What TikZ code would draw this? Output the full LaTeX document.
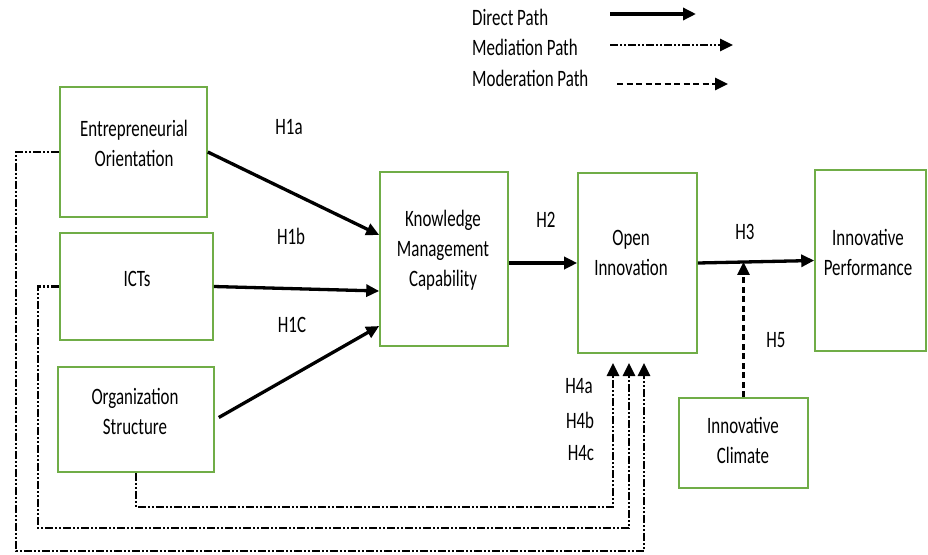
\documentclass[tikz,border=0pt]{standalone}
\usepackage{fontspec}
\setmainfont[FakeStretch=0.72]{Carlito}
\usetikzlibrary{arrows.meta,calc}
\definecolor{boxgreen}{RGB}{112,173,71}
\begin{document}
\begin{tikzpicture}[x=1pt,y=-1pt,
  box/.style={draw=boxgreen,line width=1.6pt,rectangle,inner sep=0pt},
  txt/.style={align=center,font=\fontsize{23.5}{30}\selectfont,inner sep=0pt},
  lbl/.style={font=\fontsize{23.5}{30}\selectfont,inner sep=0pt},
  tip/.style={-{Triangle[length=13pt,width=12pt]}},
  direct/.style={tip,line width=3.3pt},
  mediation/.style={tip,line width=2.6pt,dash pattern=on 8pt off 2pt on 2pt off 2pt on 2pt off 2pt},
  moderation/.style={tip,line width=2.6pt,dash pattern=on 6pt off 3.5pt}]
\useasboundingbox (0,0) rectangle (928,554);
% boxes
\node[box,minimum width=147pt,minimum height=130pt] (eo) at (133.5,152) {};
\node[box,minimum width=153pt,minimum height=107pt] (icts) at (136.5,286.5) {};
\node[box,minimum width=156pt,minimum height=105pt] (os) at (136,419.5) {};
\node[box,minimum width=128pt,minimum height=174pt] (kmc) at (444,259) {};
\node[box,minimum width=119pt,minimum height=180pt] (oi) at (637.5,263) {};
\node[box,minimum width=111pt,minimum height=181pt] (ip) at (870.5,260.5) {};
\node[box,minimum width=129pt,minimum height=90pt] (ic) at (743.5,443) {};
% box texts
\node[txt] (eot) at (134,143) {Entrepreneurial\\Orientation};
\node[txt] (ictst) at (137,279) {ICTs};
\node[txt] (ost) at (135,411) {Organization\\Structure};
\node[txt] (kmct) at (443,250) {Knowledge\\Management\\Capability};
\node[txt] (oit) at (631,253) {Open\\Innovation};
\node[txt] (ipt) at (868,252) {Innovative\\Performance};
\node[txt] (ict) at (743,440) {Innovative\\Climate};
% hypothesis labels
\node[lbl] (h1a) at (289,127) {H1a};
\node[lbl] (h1b) at (291,236) {H1b};
\node[lbl] (h1c) at (292,325) {H1C};
\node[lbl] (h2) at (546,220) {H2};
\node[lbl] (h3) at (745,232) {H3};
\node[lbl] (h5) at (776,340) {H5};
\node[lbl] (h4a) at (579,386) {H4a};
\node[lbl] (h4b) at (580,420) {H4b};
\node[lbl] (h4c) at (581,453) {H4c};
% direct paths
\draw[direct] (eo.east) -- ($(kmc.west)+(0,-24)$);
\draw[direct] (icts.east) -- ($(kmc.west)+(0,32)$);
\draw[direct] ($(os.east)+(4,-2)$) -- ($(kmc.west)+(0,67)$);
\draw[direct] (kmc.east |- oi.west) -- (oi.west);
\draw[direct] (oi.east) -- (ip.west);
% moderation
\coordinate (h3m) at ($(oi.east)!0.41!(ip.west)$);
\draw[moderation] (ic.north) -- (ic.north |- h3m);
% mediation paths
\coordinate (m1) at (613,363);
\coordinate (m2) at (629,363);
\coordinate (m3) at (644,363);
\coordinate (c1) at (136,507);
\coordinate (c2) at (38,528);
\coordinate (c3) at (16,551);
\draw[mediation] (os.south) -- (c1) -| (m1);
\draw[mediation] (icts.west) -| (c2) -| (m2);
\draw[mediation] (eo.west) -| (c3) -| (m3);
% legend
\node[lbl,anchor=west] (ld) at (472,17) {Direct Path};
\node[lbl,anchor=west] (lm) at (472,47) {Mediation Path};
\node[lbl,anchor=west] (lo) at (472,78) {Moderation Path};
\coordinate (ld1) at (610,14);
\coordinate (ld2) at (696,14);
\coordinate (lm1) at (610,45);
\coordinate (lm2) at (733,45);
\coordinate (lo1) at (617,84);
\coordinate (lo2) at (728,84);
\draw[direct] (ld1) -- (ld2);
\draw[mediation] (lm1) -- (lm2);
\draw[moderation] (lo1) -- (lo2);
\end{tikzpicture}
\end{document}
